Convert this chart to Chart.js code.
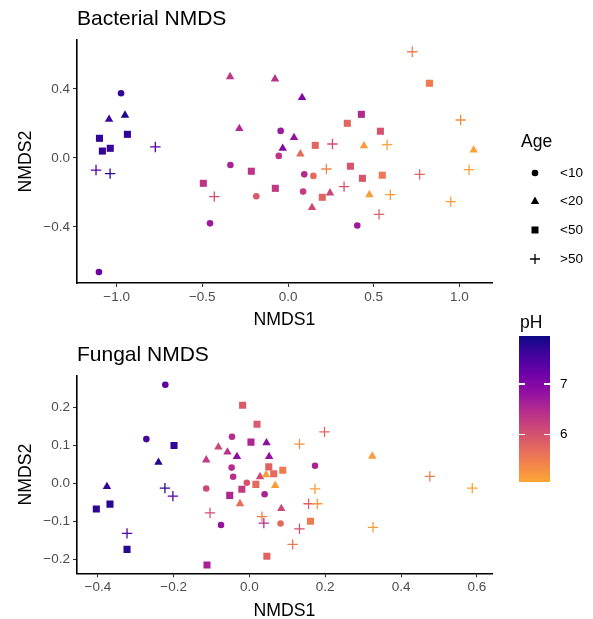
<!DOCTYPE html>
<html>
<head>
<meta charset="utf-8">
<script src="https://cdn.jsdelivr.net/npm/chart.js@4.4.1/dist/chart.umd.min.js"></script>
<style>
html, body { margin: 0; padding: 0; background: #fff; overflow: hidden; }
#wrap { position: relative; width: 593px; height: 619px; font-family: "Liberation Sans", Arial, sans-serif; color: #000; }
#c1 { position: absolute; left: 0; top: 0; }
#c2 { position: absolute; left: 0; top: 335px; }
.txt { position: absolute; white-space: nowrap; line-height: 20px; }
.sym { position: absolute; }
#bar { position: absolute; left: 519px; top: 336px; width: 31px; height: 146px; }
.tk { position: absolute; height: 1.5px; width: 6px; background: #fff; }
</style>
</head>
<body>
<div id="wrap">
  <canvas id="c1" width="593" height="335"></canvas>
  <canvas id="c2" width="593" height="290"></canvas>

  <div class="txt" style="left:521px; top:131px; font-size:17.5px;">Age</div>
  <svg class="sym" style="left:528px; top:166px;" width="14" height="14"><circle cx="7" cy="7" r="3.3" fill="#000"/></svg>
  <div class="txt" style="left:560px; top:163px; font-size:13.5px;">&lt;10</div>
  <svg class="sym" style="left:528px; top:194px;" width="14" height="14"><polygon points="7,2.6 11.2,9.9 2.8,9.9" fill="#000"/></svg>
  <div class="txt" style="left:560px; top:191px; font-size:13.5px;">&lt;20</div>
  <svg class="sym" style="left:528px; top:223px;" width="14" height="14"><rect x="3.5" y="3.5" width="7" height="7" fill="#000"/></svg>
  <div class="txt" style="left:560px; top:220px; font-size:13.5px;">&lt;50</div>
  <svg class="sym" style="left:528px; top:252px;" width="14" height="14"><path d="M7 2 V12 M2 7 H12" stroke="#000" stroke-width="1.3"/></svg>
  <div class="txt" style="left:560px; top:249px; font-size:13.5px;">&gt;50</div>

  <div class="txt" style="left:520px; top:312px; font-size:17.5px;">pH</div>
  <div id="bar"></div>
  <div id="barTicks"></div>
</div>

<script>
// ---- data: bacterial NMDS ----
const bacX   = [-0.974, -1.044, -0.951, -1.100, -0.937, -1.083, -1.037, -0.774, -1.120, -1.038,
                -1.103, -0.338, -0.076, -0.284, -0.043, 0.035, -0.031, -0.054, -0.336, -0.214,
                -0.494, -0.430, -0.185, -0.074, -0.455, 0.082, 0.072, 0.159, 0.259, 0.346,
                0.428, 0.539, 0.443, 0.578, 0.725, 0.825, 1.007, 1.083, 1.056, 0.768,
                0.949, 0.095, 0.148, 0.224, 0.364, 0.434, 0.550, 0.327, 0.475, 0.597,
                0.088, 0.200, 0.245, 0.140, 0.531, 0.404];
const bacY   = [0.375, 0.224, 0.248, 0.114, 0.137, 0.040, 0.056, 0.064, -0.070, -0.091,
                -0.661, 0.471, 0.458, 0.170, 0.157, 0.118, 0.056, 0.012, -0.041, -0.077,
                -0.147, -0.224, -0.222, -0.176, -0.379, 0.350, 0.023, 0.073, 0.081, 0.201,
                0.253, 0.155, 0.070, 0.077, 0.616, 0.433, 0.220, 0.046, -0.068, -0.095,
                -0.253, -0.095, -0.104, -0.064, -0.048, -0.118, -0.100, -0.166, -0.213, -0.213,
                -0.195, -0.228, -0.203, -0.288, -0.327, -0.392];
const bacAge = ['<10', '<20', '<20', '<50', '<50', '<50', '<50', '>50', '>50', '>50',
                '<10', '<20', '<20', '<20', '<10', '<20', '<20', '<10', '<10', '<50',
                '<50', '>50', '<10', '<50', '<10', '<20', '<20', '<50', '>50', '<50',
                '<50', '<50', '<20', '>50', '>50', '<50', '>50', '<20', '>50', '>50',
                '>50', '<10', '<10', '>50', '<50', '<50', '<50', '>50', '<20', '>50',
                '<10', '<50', '<20', '<20', '>50', '<10'];
const bacPH  = [7.7, 7.6, 7.85, 7.7, 7.7, 7.7, 7.65, 7.4, 7.4, 7.7,
                7.2, 6.3, 6.4, 6.5, 6.7, 6.8, 7.0, 6.35, 6.6, 6.35,
                6.35, 6.0, 5.9, 6.3, 6.7, 7.0, 5.7, 5.75, 6.05, 5.75,
                6.5, 6.0, 5.15, 5.1, 5.45, 5.5, 5.35, 5.1, 5.1, 5.75,
                5.1, 6.5, 5.7, 5.4, 5.95, 5.95, 5.55, 6.0, 5.15, 5.15,
                6.25, 5.75, 6.15, 6.1, 5.8, 6.7];

// ---- data: fungal NMDS ----
const funX   = [-0.222, -0.272, -0.199, -0.240, -0.376, -0.223, -0.202, -0.404, -0.368, -0.323,
                -0.323, -0.112, -0.018, 0.020, -0.046, 0.004, 0.045, -0.082, -0.058, -0.033,
                0.052, -0.114, -0.047, -0.043, 0.051, 0.064, 0.088, 0.028, 0.044, 0.068,
                -0.007, 0.017, -0.114, -0.020, -0.052, 0.040, -0.025, 0.084, -0.104, -0.075,
                0.033, 0.038, 0.082, 0.114, 0.046, 0.198, 0.132, 0.324, 0.173, 0.476,
                0.588, 0.173, 0.156, 0.179, 0.161, 0.132, 0.326];
const funY   = [0.260, 0.117, 0.100, 0.056, -0.008, -0.012, -0.033, -0.067, -0.054, -0.131,
                -0.173, -0.214, 0.206, 0.156, 0.123, 0.109, 0.107, 0.096, 0.083, 0.071,
                0.071, 0.062, 0.042, 0.018, 0.044, 0.026, 0.035, 0.018, 0.023, -0.005,
                0.002, -0.002, -0.013, -0.015, -0.031, -0.028, -0.053, -0.066, -0.077, -0.109,
                -0.087, -0.104, -0.105, -0.160, -0.191, 0.136, 0.104, 0.072, 0.047, 0.019,
                -0.012, -0.014, -0.053, -0.053, -0.099, -0.119, -0.115];
const funAge = ['<10', '<10', '<50', '<20', '<20', '>50', '>50', '<50', '<50', '>50',
                '<50', '<50', '<50', '<50', '<10', '<50', '<20', '<20', '<20', '<20',
                '<20', '<20', '<10', '<10', '<50', '<50', '<50', '<20', '<20', '<20',
                '<10', '<50', '<10', '<50', '<50', '<10', '<20', '<20', '>50', '<10',
                '>50', '>50', '<10', '>50', '<50', '>50', '>50', '<20', '<10', '>50',
                '>50', '>50', '>50', '>50', '<50', '>50', '>50'];
const funPH  = [7.35, 7.55, 7.7, 7.8, 7.7, 7.7, 7.4, 7.75, 7.75, 7.4,
                7.75, 6.6, 5.9, 5.9, 6.45, 6.55, 6.9, 6.15, 6.4, 6.9,
                6.8, 6.3, 6.45, 6.4, 5.8, 5.7, 5.5, 6.1, 5.15, 5.15,
                6.0, 5.7, 6.1, 6.3, 6.55, 6.6, 5.65, 6.15, 6.0, 6.8,
                5.5, 6.45, 5.7, 5.55, 5.8, 5.75, 5.3, 5.15, 6.6, 5.5,
                5.1, 5.15, 5.85, 5.2, 5.5, 6.0, 5.15];

// ---- scales / ticks ----
const ageGroups  = ['<10', '<20', '<50', '>50'];
const ageShapes  = ['circle', 'triangle', 'rect', 'cross'];
const bacXTicks  = [-1.0, -0.5, 0.0, 0.5, 1.0];
const bacYTicks  = [-0.4, 0.0, 0.4];
const funXTicks  = [-0.4, -0.2, 0.0, 0.2, 0.4, 0.6];
const funYTicks  = [-0.2, -0.1, 0.0, 0.1, 0.2];
const phTicks    = [7, 6];
const phMax = 7.96, phMin = 5.05;

// plasma colour map, 0 .. 0.8
const plasma = ['#0d0887', '#41049d', '#6a00a8', '#8f0da4', '#b12a90',
                '#cc4778', '#e16462', '#f2844b', '#fca636'];

const FONT = '"Liberation Sans", Arial, sans-serif';
const TITLE_SIZE = 21;

function hexRgb(h) {
    return [parseInt(h.substr(1, 2), 16), parseInt(h.substr(3, 2), 16), parseInt(h.substr(5, 2), 16)];
}

function phColor(ph) {
    let t = (phMax - ph) / (phMax - phMin);
    t = Math.max(0, Math.min(1, t)) * (plasma.length - 1);
    const i = Math.min(Math.floor(t), plasma.length - 2);
    const f = t - i;
    const a = hexRgb(plasma[i]), b = hexRgb(plasma[i + 1]);
    const c = a.map((v, k) => Math.round(v + (b[k] - v) * f));
    return 'rgb(' + c.join(',') + ')';
}

function fmt(v) {
    return v.toFixed(1).replace('-', '\u2212');
}

function buildDatasets(xs, ys, ages, phs) {
    return ageGroups.map(function(g, gi) {
        const pts = [], cols = [];
        xs.forEach(function(x, i) {
            if (ages[i] === g) {
                pts.push({x: x, y: ys[i]});
                cols.push(phColor(phs[i]));
            }
        });
        const shape = ageShapes[gi];
        const isCross = shape === 'cross';
        const r = {circle: 3.3, triangle: 4.9, rect: 5, cross: 5.2}[shape];
        return {
            label: g,
            data: pts,
            pointStyle: shape,
            pointRadius: r,
            pointHoverRadius: r,
            pointBackgroundColor: cols,
            pointBorderColor: isCross ? cols : 'rgba(0,0,0,0)',
            pointBorderWidth: isCross ? 1.3 : 0,
            showLine: false
        };
    });
}

function makePanel(canvasId, cfg) {
    const H = document.getElementById(canvasId).height;
    return new Chart(document.getElementById(canvasId), {
        type: 'scatter',
        data: {datasets: buildDatasets(cfg.x, cfg.y, cfg.age, cfg.ph)},
        options: {
            responsive: false,
            animation: false,
            events: [],
            layout: {padding: {left: 0, right: 101, top: 0, bottom: 0}},
            plugins: {
                legend: {display: false},
                tooltip: {enabled: false},
                title: {
                    display: true,
                    text: cfg.title,
                    align: 'start',
                    fullSize: false,
                    color: '#000',
                    font: {family: FONT, size: TITLE_SIZE, weight: 'normal'},
                    padding: {top: cfg.titleTop, bottom: cfg.areaTop - cfg.titleTop - TITLE_SIZE * 1.2}
                }
            },
            scales: {
                x: {
                    type: 'linear',
                    min: cfg.xMin, max: cfg.xMax,
                    afterBuildTicks: function(s) { s.ticks = cfg.xTicks.map(v => ({value: v})); },
                    afterFit: function(s) { s.height = H - cfg.areaBottom; },
                    grid: {drawOnChartArea: false, drawTicks: true, tickLength: 4, tickColor: '#333333', tickWidth: 1.1},
                    border: {display: true, color: '#000', width: 1.6},
                    ticks: {
                        color: '#4d4d4d', padding: 2,
                        font: {family: FONT, size: 13.5},
                        callback: v => fmt(v)
                    },
                    title: {
                        display: true, text: 'NMDS1', color: '#000',
                        font: {family: FONT, size: 17.7},
                        padding: {top: 0, bottom: cfg.xTitlePad}
                    }
                },
                y: {
                    type: 'linear',
                    min: cfg.yMin, max: cfg.yMax,
                    afterBuildTicks: function(s) { s.ticks = cfg.yTicks.map(v => ({value: v})); },
                    afterFit: function(s) { s.width = 77; },
                    grid: {drawOnChartArea: false, drawTicks: true, tickLength: 4, tickColor: '#333333', tickWidth: 1.1},
                    border: {display: true, color: '#000', width: 1.6},
                    ticks: {
                        color: '#4d4d4d', padding: 3,
                        font: {family: FONT, size: 13.5},
                        callback: v => fmt(v)
                    },
                    title: {
                        display: true, text: 'NMDS2', color: '#000',
                        font: {family: FONT, size: 17.7},
                        padding: {top: 15, bottom: 0}
                    }
                }
            }
        }
    });
}

makePanel('c1', {
    title: 'Bacterial NMDS',
    x: bacX, y: bacY, age: bacAge, ph: bacPH,
    xMin: -1.231, xMax: 1.19, yMin: -0.725, yMax: 0.684,
    xTicks: bacXTicks, yTicks: bacYTicks,
    titleTop: 7, areaTop: 40, areaBottom: 283, xTitlePad: 4.3
});

makePanel('c2', {
    title: 'Fungal NMDS',
    x: funX, y: funY, age: funAge, ph: funPH,
    xMin: -0.455, xMax: 0.64, yMin: -0.236, yMax: 0.283,
    xTicks: funXTicks, yTicks: funYTicks,
    titleTop: 8, areaTop: 41, areaBottom: 238.3, xTitlePad: 3.5
});

// colour bar for pH
(function() {
    const bar = document.getElementById('bar');
    const stops = plasma.map((c, i) => c + ' ' + (i / (plasma.length - 1) * 100).toFixed(1) + '%');
    bar.style.background = 'linear-gradient(to bottom, ' + stops.join(', ') + ')';
    const holder = document.getElementById('barTicks');
    const top = 336, h = 146;
    phTicks.forEach(function(v) {
        const y = top + (phMax - v) / (phMax - phMin) * h;
        holder.insertAdjacentHTML('beforeend',
            '<div class="tk" style="left:519px; top:' + (y - 0.75) + 'px;"></div>' +
            '<div class="tk" style="left:544px; top:' + (y - 0.75) + 'px;"></div>' +
            '<div class="txt" style="left:560px; top:' + (y - 10) + 'px; font-size:13.5px;">' + v + '</div>');
    });
})();
</script>
</body>
</html>
